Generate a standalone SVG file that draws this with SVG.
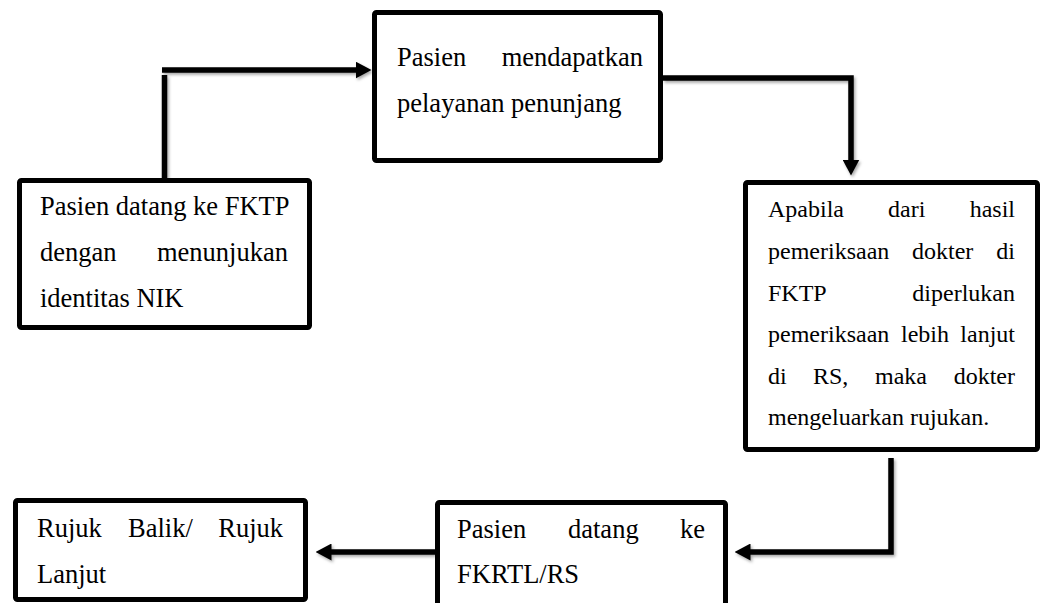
<svg xmlns="http://www.w3.org/2000/svg" width="1046" height="603" viewBox="0 0 1046 603">
<style>
.box{fill:#fff;stroke:#000;stroke-width:5;stroke-linejoin:round}
.t{font-family:"Liberation Serif","Times New Roman",serif;font-size:26.5px;fill:#000}
.s{font-size:24px}
.e{text-anchor:end}
.c{fill:none;stroke:#000;stroke-width:5.5}
</style>
<defs>
<marker id="ah" viewBox="0 0 16 17" markerWidth="16" markerHeight="17" refX="0.5" refY="8.5" orient="auto" markerUnits="userSpaceOnUse">
<path d="M0,0 L16,8.5 L0,17 z" fill="#000"/>
</marker>
<filter id="sh" x="-10%" y="-10%" width="130%" height="130%">
<feDropShadow dx="1.5" dy="2" stdDeviation="1.5" flood-color="#000" flood-opacity="0.35"/>
</filter>
</defs>
<g id="connectors" filter="url(#sh)">
<path class="c" d="M164.5,178 V75"/>
<path class="c" d="M162,70 H356" marker-end="url(#ah)"/>
<path class="c" d="M663,78 H851 V160" marker-end="url(#ah)"/>
<path class="c" d="M891,458 V552 H750" marker-end="url(#ah)"/>
<path class="c" d="M435,552 H331" marker-end="url(#ah)"/>
</g>
<g id="n1">
<rect class="box" x="19.5" y="180.5" width="290" height="147" rx="2"/>
<text class="t" x="40" y="215">Pasien datang ke FKTP</text>
<text class="t" x="40" y="261">dengan</text>
<text class="t e" x="288" y="261">menunjukan</text>
<text class="t" x="40" y="307">identitas NIK</text>
</g>
<g id="n2">
<rect class="box" x="374.5" y="12.5" width="286" height="148" rx="2"/>
<text class="t" x="397" y="66">Pasien</text>
<text class="t e" x="643" y="66">mendapatkan</text>
<text class="t" x="397" y="112">pelayanan penunjang</text>
</g>
<g id="n3">
<rect class="box" x="745.5" y="182.5" width="292" height="267" rx="2"/>
<text class="t s" x="768" y="217">Apabila</text>
<text class="t s" x="888" y="217">dari</text>
<text class="t s e" x="1015" y="217">hasil</text>
<text class="t s" x="768" y="259">pemeriksaan</text>
<text class="t s" x="912" y="259">dokter</text>
<text class="t s e" x="1015" y="259">di</text>
<text class="t s" x="768" y="301">FKTP</text>
<text class="t s e" x="1015" y="301">diperlukan</text>
<text class="t s" x="768" y="342">pemeriksaan</text>
<text class="t s" x="901" y="342">lebih</text>
<text class="t s e" x="1015" y="342">lanjut</text>
<text class="t s" x="768" y="384">di</text>
<text class="t s" x="813" y="384">RS,</text>
<text class="t s" x="875" y="384">maka</text>
<text class="t s e" x="1015" y="384">dokter</text>
<text class="t s" x="768" y="425">mengeluarkan rujukan.</text>
</g>
<g id="n4">
<rect class="box" x="437.5" y="502.5" width="288" height="120" rx="2"/>
<text class="t" x="457" y="538">Pasien</text>
<text class="t" x="568" y="538">datang</text>
<text class="t e" x="705" y="538">ke</text>
<text class="t" x="457" y="583">FKRTL/RS</text>
</g>
<g id="n5">
<rect class="box" x="15.5" y="500.5" width="290" height="99" rx="2"/>
<text class="t" x="37" y="537">Rujuk</text>
<text class="t" x="128" y="537">Balik/</text>
<text class="t e" x="283" y="537">Rujuk</text>
<text class="t" x="37" y="583">Lanjut</text>
</g>
</svg>
